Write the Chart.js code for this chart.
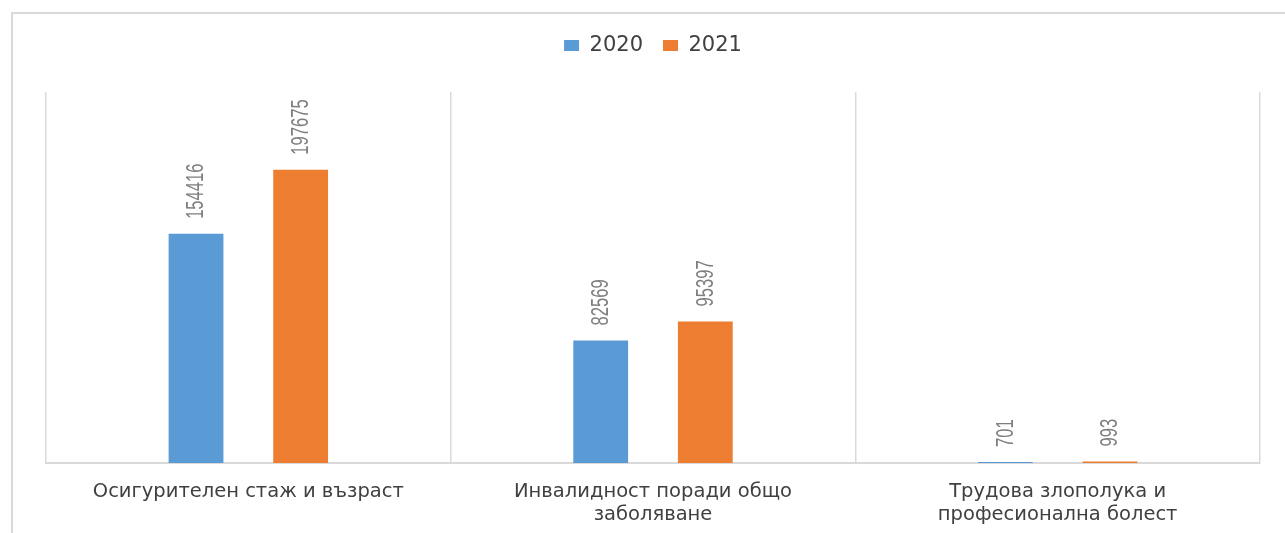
<!DOCTYPE html>
<html>
<head>
<meta charset="utf-8">
<script src="https://cdn.jsdelivr.net/npm/chart.js@4.4.1/dist/chart.umd.min.js"></script>
<style>
  html, body { margin: 0; padding: 0; background: #fff; }
  #wrap { width: 1285px; height: 533px; position: relative; }
</style>
</head>
<body>
<div id="wrap"><canvas id="chart" width="1285" height="533"></canvas></div>
<script>
const categories = [
  'Осигурителен стаж и възраст',
  ['Инвалидност поради общо', 'заболяване'],
  ['Трудова злополука и', 'професионална болест']
];
const years = ['2020', '2021'];
const values2020 = [154416, 82569, 701];
const values2021 = [197675, 95397, 993];
const yMax = 250000;

// frame around the chart (top and left edges are visible in the original)
const framePlugin = {
  id: 'frame',
  beforeDraw(chart) {
    const ctx = chart.ctx;
    ctx.save();
    ctx.strokeStyle = '#d9d9d9';
    ctx.lineWidth = 2;
    ctx.beginPath();
    ctx.moveTo(12, 533);
    ctx.lineTo(12, 13);
    ctx.lineTo(1285, 13);
    ctx.stroke();
    ctx.restore();
  }
};

// rotated value labels above each bar
const barLabels = {
  id: 'barLabels',
  afterDatasetsDraw(chart) {
    const ctx = chart.ctx;
    ctx.save();
    ctx.fillStyle = '#7f7f7f';
    ctx.font = '23px "Liberation Sans", Arial, sans-serif';
    ctx.textAlign = 'left';
    ctx.textBaseline = 'middle';
    chart.data.datasets.forEach((ds, i) => {
      chart.getDatasetMeta(i).data.forEach((bar, j) => {
        ctx.save();
        ctx.translate(bar.x + 1, bar.y - 15);
        ctx.rotate(-Math.PI / 2);
        ctx.scale(0.72, 1);
        ctx.fillText(String(ds.data[j]), 0, 0);
        ctx.restore();
      });
    });
    ctx.restore();
  }
};

new Chart(document.getElementById('chart'), {
  type: 'bar',
  data: {
    labels: categories,
    datasets: [
      { label: years[0], data: values2020, backgroundColor: '#5b9bd5' },
      { label: years[1], data: values2021, backgroundColor: '#ed7d31' }
    ]
  },
  options: {
    responsive: false,
    animation: false,
    layout: { padding: { left: 46, right: 25, top: 15, bottom: -11 } },
    datasets: {
      bar: { categoryPercentage: 0.517, barPercentage: 0.524 }
    },
    plugins: {
      legend: {
        position: 'top',
        labels: {
          boxWidth: 15,
          boxHeight: 11,
          padding: 20,
          color: '#404040',
          font: { family: '"DejaVu Sans", sans-serif', size: 21 }
        }
      },
      // empty spacer between legend and plot area
      subtitle: {
        display: true,
        text: '',
        weight: 500,
        font: { size: 1, lineHeight: 1 },
        padding: { top: 0, bottom: 25 }
      },
      tooltip: { enabled: false }
    },
    scales: {
      x: {
        grid: { offset: true, color: '#d9d9d9', lineWidth: 1.5, drawTicks: false },
        border: { color: '#d9d9d9', width: 2 },
        ticks: {
          padding: 17.5,
          color: '#404040',
          maxRotation: 0,
          font: { family: '"DejaVu Sans", sans-serif', size: 19.5, lineHeight: 1.18 }
        }
      },
      y: {
        display: false,
        min: 0,
        max: yMax
      }
    }
  },
  plugins: [framePlugin, barLabels]
});
</script>
</body>
</html>
